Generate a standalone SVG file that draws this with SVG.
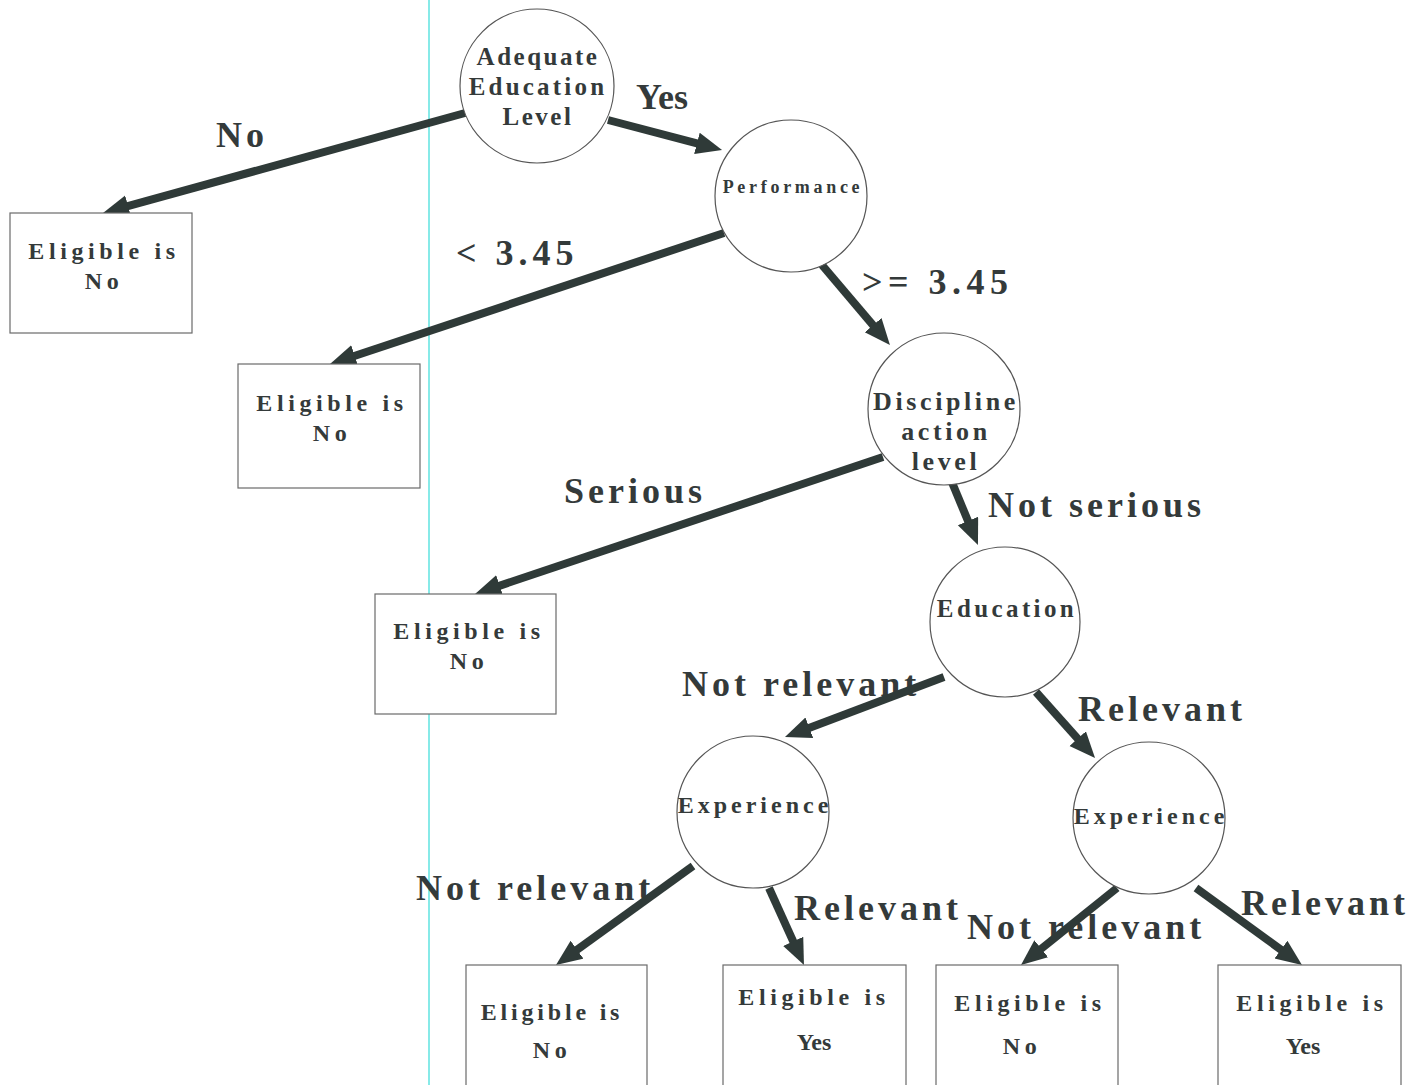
<svg xmlns="http://www.w3.org/2000/svg" width="1408" height="1085" viewBox="0 0 1408 1085">
  <style>
    .bg { fill: #ffffff; }
    .guide { stroke: #5fe3e0; stroke-width: 1.5; }
    .dec circle { fill: #ffffff; stroke: #555; stroke-width: 1.2; }
    .leaf rect { fill: #ffffff; stroke: #6a6a6a; stroke-width: 1.2; }
    text { font-family: "Liberation Serif", "Times New Roman", serif; font-weight: bold; fill: #343a3a; }
    .nt { font-size: 25px; letter-spacing: 2.5px; text-anchor: middle; }
    .lt { font-size: 24px; letter-spacing: 4.6px; text-anchor: middle; }
    .el { font-size: 36px; letter-spacing: 4px; }
    .edge { stroke: #2f3a38; stroke-width: 8; fill: none; marker-end: url(#head); }
  </style>
  <defs>
    <marker id="head" markerUnits="userSpaceOnUse" markerWidth="28" markerHeight="24" refX="6" refY="11" orient="auto">
      <path d="M0,0 L26,11 L0,22 Z" fill="#2f3a38"/>
    </marker>
  </defs>

  <rect class="bg" x="0" y="0" width="1408" height="1085"/>
  <line class="guide" x1="429" y1="0" x2="429" y2="1085"/>

  <!-- branch labels and arrows -->
  <g id="connectors">
    <text class="el" x="216" y="147">No</text>
    <text class="el" x="636" y="109" style="letter-spacing:0">Yes</text>
    <text class="el" x="456" y="265" style="letter-spacing:5px">&lt; 3.45</text>
    <text class="el" x="862" y="294" style="letter-spacing:5.5px">&gt;= 3.45</text>
    <text class="el" x="564" y="503">Serious</text>
    <text class="el" x="988" y="517">Not serious</text>
    <text class="el" x="682" y="696">Not relevant</text>
    <text class="el" x="1078" y="721">Relevant</text>
    <text class="el" x="416" y="900">Not relevant</text>
    <text class="el" x="794" y="920">Relevant</text>
    <text class="el" x="967" y="939">Not relevant</text>
    <text class="el" x="1241" y="915">Relevant</text>

    <line class="edge" x1="465" y1="113" x2="122.3" y2="207.7"/>
    <line class="edge" x1="608" y1="120" x2="702.7" y2="144.9"/>
    <line class="edge" x1="724" y1="233" x2="349" y2="357.7"/>
    <line class="edge" x1="822" y1="265" x2="877" y2="329.8"/>
    <line class="edge" x1="883" y1="457" x2="494" y2="587.6"/>
    <line class="edge" x1="951" y1="480" x2="970.3" y2="526.5"/>
    <line class="edge" x1="944" y1="677" x2="803.7" y2="729.9"/>
    <line class="edge" x1="1036" y1="692" x2="1081.7" y2="743.1"/>
    <line class="edge" x1="693" y1="866" x2="572.2" y2="953.3"/>
    <line class="edge" x1="769" y1="888" x2="795.7" y2="946.8"/>
    <line class="edge" x1="1117" y1="888" x2="1036.6" y2="952.5"/>
    <line class="edge" x1="1196" y1="888" x2="1285.8" y2="953.2"/>
  </g>

  <!-- decision nodes -->
  <g id="n-adequate-education" class="dec">
    <circle cx="537" cy="86" r="77"/>
    <text class="nt" x="538" y="65">Adequate</text>
    <text class="nt" x="538" y="95" style="letter-spacing:3.2px">Education</text>
    <text class="nt" x="538" y="125">Level</text>
  </g>
  <g id="n-performance" class="dec">
    <circle cx="791" cy="196" r="76"/>
    <text class="nt" x="793" y="193" style="font-size:18px;letter-spacing:3.7px">Performance</text>
  </g>
  <g id="n-discipline" class="dec">
    <circle cx="944" cy="409" r="76"/>
    <text class="nt" x="946" y="410" style="font-size:26px;letter-spacing:3.6px">Discipline</text>
    <text class="nt" x="946" y="440" style="font-size:26px;letter-spacing:3.6px">action</text>
    <text class="nt" x="946" y="470" style="font-size:26px;letter-spacing:3.6px">level</text>
  </g>
  <g id="n-education" class="dec">
    <circle cx="1005" cy="622" r="75"/>
    <text class="nt" x="1007" y="617" style="letter-spacing:3.4px">Education</text>
  </g>
  <g id="n-experience-left" class="dec">
    <circle cx="753" cy="812" r="76"/>
    <text class="nt" x="755" y="813" style="font-size:24px;letter-spacing:4px">Experience</text>
  </g>
  <g id="n-experience-right" class="dec">
    <circle cx="1149" cy="818" r="76"/>
    <text class="nt" x="1151" y="824" style="font-size:24px;letter-spacing:4px">Experience</text>
  </g>

  <!-- outcome leaves -->
  <g id="leaf-a" class="leaf">
    <rect x="10" y="213" width="182" height="120"/>
    <text class="lt" x="104" y="259">Eligible is</text>
    <text class="lt" x="104" y="289">No</text>
  </g>
  <g id="leaf-b" class="leaf">
    <rect x="238" y="364" width="182" height="124"/>
    <text class="lt" x="332" y="411">Eligible is</text>
    <text class="lt" x="332" y="441">No</text>
  </g>
  <g id="leaf-c" class="leaf">
    <rect x="375" y="594" width="181" height="120"/>
    <text class="lt" x="469" y="639">Eligible is</text>
    <text class="lt" x="469" y="669">No</text>
  </g>
  <g id="leaf-d" class="leaf">
    <rect x="466" y="965" width="181" height="140"/>
    <text class="lt" x="552" y="1020" style="letter-spacing:3.8px">Eligible is</text>
    <text class="lt" x="552" y="1058">No</text>
  </g>
  <g id="leaf-e" class="leaf">
    <rect x="723" y="965" width="183" height="140"/>
    <text class="lt" x="814" y="1005">Eligible is</text>
    <text class="lt" x="814" y="1050" style="letter-spacing:0">Yes</text>
  </g>
  <g id="leaf-f" class="leaf">
    <rect x="936" y="965" width="182" height="140"/>
    <text class="lt" x="1030" y="1011">Eligible is</text>
    <text class="lt" x="1022" y="1054">No</text>
  </g>
  <g id="leaf-g" class="leaf">
    <rect x="1218" y="965" width="183" height="140"/>
    <text class="lt" x="1312" y="1011">Eligible is</text>
    <text class="lt" x="1303" y="1054" style="letter-spacing:0">Yes</text>
  </g>
</svg>
